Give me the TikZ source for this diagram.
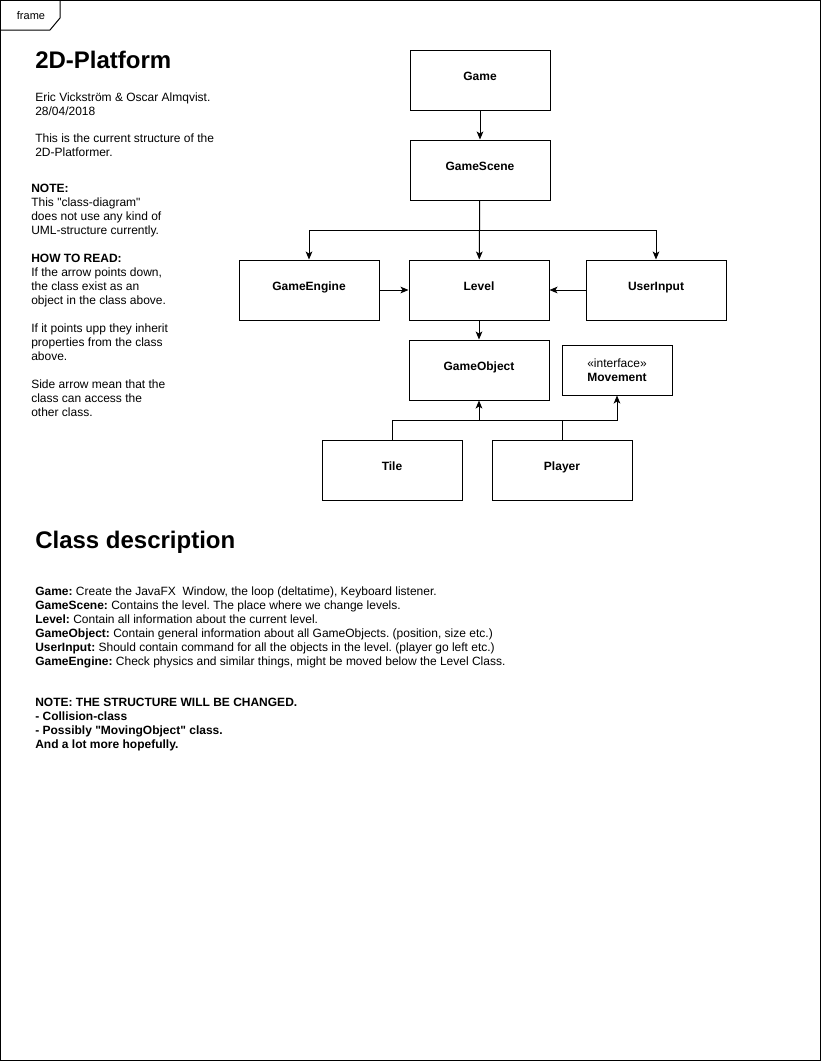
\documentclass[tikz,border=0pt]{standalone}
\usepackage{fontspec}
\setmainfont{Liberation Sans}
\usetikzlibrary{arrows.meta}
\frenchspacing

\begin{document}
\begin{tikzpicture}[
        x=0.75pt, y=-0.75pt,
        cls/.style={rectangle, draw, line width=0.75pt, minimum width=105pt, minimum height=45pt, inner sep=0pt, text height=7pt, text depth=7pt, font=\fontsize{9}{10.5}\selectfont\bfseries},
        iface/.style={rectangle, draw, line width=0.75pt, minimum width=82.5pt, minimum height=37.5pt, inner sep=0pt, align=center, font=\fontsize{9}{10.5}\selectfont},
        arr/.style={line width=0.75pt, -{Stealth[length=6pt, width=5pt, inset=1.5pt]}},
        link/.style={line width=0.75pt},
        heading/.style={anchor=base west, inner sep=0pt, font=\fontsize{18}{21.6}\selectfont\bfseries},
        note/.style={anchor=base west, inner sep=0pt, align=left, font=\fontsize{9}{10.5}\selectfont}
    ]
        \useasboundingbox (0,0) rectangle (821,1061);

        % Frame with its tab
        \draw[link] (0.5,0.5) rectangle (820.5,1060.5);
        \draw[link] (0.5,30) -- (50,30) -- (60,18) -- (60,0.5);
        \node[font=\fontsize{8.25}{10}\selectfont] (framelbl) at (31,16) {frame};

        % Notes on the left (placed at the baseline of their last line)
        \node[heading] (title) at (35,68) {2D-Platform};
        \node[note] (authors) at (35,115.5) {Eric Vickström \& Oscar Almqvist.\\28/04/2018};
        \node[note] (purpose) at (35,156) {This is the current structure of the\\2D-Platformer.};
        \node[note] (notebox) at (31,234) {\textbf{NOTE:}\\This \textquotedbl class-diagram\textquotedbl\\does not use any kind of\\UML-structure currently.};
        \node[note] (howto) at (31,304) {\textbf{HOW TO READ:}\\If the arrow points down,\\the class exist as an\\object in the class above.};
        \node[note] (uphint) at (31,360) {If it points upp they inherit\\properties from the class\\above.};
        \node[note] (sidehint) at (31,416) {Side arrow mean that the\\class can access the\\other class.};

        % Classes
        \node[cls] (game) at (480,80) {Game};
        \node[cls] (gamescene) at (480,170) {GameScene};
        \node[cls] (engine) at (309,290) {GameEngine};
        \node[cls] (level) at (479,290) {Level};
        \node[cls] (userinput) at (656,290) {UserInput};
        \node[cls] (gameobject) at (479,370) {GameObject};
        \node[iface] (movement) at (617,370) {«interface»\\\textbf{Movement}};
        \node[cls] (tile) at (392,470) {Tile};
        \node[cls] (player) at (562,470) {Player};

        % Connectors
        \coordinate (fork) at (gamescene.south |- 0,230);
        \coordinate (joint) at (gameobject.south |- 0,420);
        \coordinate (pjoin) at (player.north |- 0,420);
        \draw[arr] (game) -- (gamescene);
        \draw[arr] (gamescene) -- (level);
        \draw[arr] (fork) -| (engine);
        \draw[arr] (fork) -| (userinput);
        \draw[arr] (engine) -- (level);
        \draw[arr] (userinput) -- (level);
        \draw[arr] (level) -- (gameobject);
        \draw[arr] (tile) |- (joint) -- (gameobject);
        \draw[link] (player) -- (pjoin) -- (joint);
        \draw[arr] (pjoin) -| (movement);

        % Class description
        \node[heading] (classdesc) at (35,548) {Class description};
        \node[note] (desc) at (35,665) {\textbf{Game:} Create the JavaFX\ \ Window, the loop (deltatime), Keyboard listener.\\
            \textbf{GameScene:} Contains the level. The place where we change levels.\\
            \textbf{Level:} Contain all information about the current level.\\
            \textbf{GameObject:} Contain general information about all GameObjects. (position, size etc.)\\
            \textbf{UserInput:} Should contain command for all the objects in the level. (player go left etc.)\\
            \textbf{GameEngine:} Check physics and similar things, might be moved below the Level Class.};
        \node[note, font=\fontsize{9}{10.5}\selectfont\bfseries] (todo) at (35,748) {NOTE: THE STRUCTURE WILL BE CHANGED.\\- Collision-class\\- Possibly \textquotedbl MovingObject\textquotedbl\ class.\\And a lot more hopefully.};

\end{tikzpicture}
\end{document}
